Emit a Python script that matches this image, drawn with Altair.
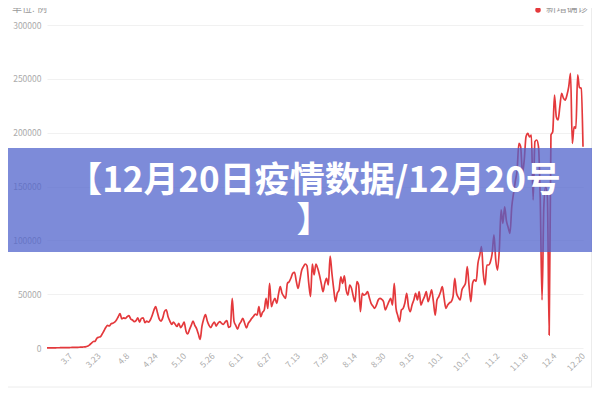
import altair as alt
import pandas as pd

# ---------------- data ----------------
start_date = "2022-02-22"
values = [
    100, 120, 150, 130, 180, 200, 220, 250, 300, 280,
    350, 400, 380, 450, 500, 550, 600, 650, 700, 800,
    900, 1000, 1300, 1800, 3000, 4500, 6000, 6200, 9000, 10000,
    10500, 13000, 16000, 19000, 21000, 20500, 22500, 23000, 24000, 26000,
    29000, 32000, 27000, 28000, 27500, 29000, 30000, 27000, 26000, 24500,
    25500, 28000, 24000, 27500, 28000, 23500, 25000, 24000, 26000, 30000,
    35000, 38500, 33000, 27000, 25000, 28000, 34000, 35500, 29000, 25000,
    22000, 24000, 22000, 20000, 23000, 19000, 21000, 24000, 16000, 13000,
    17000, 21000, 25000, 21000, 18000, 13000, 8000, 20000, 27000, 31000,
    25000, 21000, 19000, 22000, 24000, 20400, 23000, 24500, 23000, 22000,
    24000, 25400, 19200, 20000, 46100, 25000, 21000, 17500, 22000, 24500,
    27600, 23000, 18600, 22900, 25000, 27600, 29500, 31600, 30600, 38400,
    29100, 33000, 35300, 46100, 36800, 60100, 38400, 43000, 46100, 41500,
    50000, 57000, 50800, 48000, 46100, 60100, 61600, 65000, 69400, 70300,
    62000, 55400, 63200, 72000, 75500, 78000, 76200, 60000, 47700, 78000,
    67800, 78000, 74000, 67800, 60000, 52300, 60000, 64700, 58500, 85400,
    69400, 55000, 43000, 50800, 53900, 66200, 60100, 66900, 53900, 49200,
    58500, 55400, 48000, 43000, 61600, 58500, 33700, 50800, 49200, 50000,
    52300, 47000, 41500, 39000, 36800, 40000, 44600, 46100, 45200, 43000,
    35300, 39000, 43000, 46100, 39900, 60100, 36800, 30000, 24500, 35300,
    36800, 42000, 50800, 38400, 33700, 40000, 44600, 50800, 44600, 52300,
    39900, 44000, 47700, 52300, 43000, 48000, 53900, 43000, 30600, 44600,
    47700, 52000, 57000, 46100, 36800, 39900, 42000, 43000, 47700, 64700,
    50800, 47000, 44600, 53900, 57000, 60100, 75500, 58000, 43000, 60100,
    63200, 62000, 78700, 86000, 94100, 69400, 58500, 77100, 77100, 80000,
    88000, 105000, 81700, 72400, 91000, 128200, 115800, 131200, 118000, 112000,
    106500, 131200, 143700, 155000, 165300, 190100, 187000, 162300, 174600, 196300,
    199400, 196000, 197800, 137500, 191600, 193200, 187000, 137500, 44600, 131200,
    149800, 140500, 12100, 197800, 200900, 235000, 214800, 211800, 224100, 236600,
    232000, 230300, 235000, 242700, 255100, 190000, 205500, 204000, 253600, 242000,
    241200, 187000,
]
tick_labels = ["3.7", "3.23", "4.8", "4.24", "5.10", "5.26", "6.11", "6.27",
               "7.13", "7.29", "8.14", "8.30", "9.15", "10.1", "10.17", "11.2",
               "11.18", "12.4", "12.20"]
y_ticks = [0, 50000, 100000, 150000, 200000, 250000, 300000]
series_name = "新增确诊"
unit_text = "单位: 例"
title_line1 = "【12月20日疫情数据/12月20号"
title_line2 = "】"
year = 2022

# ---------------- tables ----------------
dates = pd.date_range(start_date, periods=len(values), freq="D", tz="UTC")
ms = (dates.asi8 // 10**6).tolist()
df = pd.DataFrame({"t": ms, "v": values})
tick_ms = []
for lab in tick_labels:
    m, d = lab.split(".")
    tick_ms.append(pd.Timestamp(year=year, month=int(m), day=int(d), tz="UTC").value // 10**6)
one = pd.DataFrame({"a": [0]})

RED = "#E4393C"
GREY = "#ababab"
FONT = "Noto Sans CJK SC"

line = alt.Chart(df).mark_line(color=RED, strokeWidth=1.7, interpolate="monotone").encode(
    x=alt.X("t:T",
            scale=alt.Scale(type="utc", domain=[ms[0], ms[-1]], nice=False),
            axis=alt.Axis(values=tick_ms,
                          labelExpr="utcFormat(datum.value, '%-m.%-d')",
                          labelAngle=315, labelAlign="right", labelBaseline="middle",
                          labelPadding=6, labelFontSize=8.5, labelColor=GREY,
                          labelFont=FONT, labelOverlap=False,
                          domain=False, ticks=False, grid=False, title=None)),
    y=alt.Y("v:Q",
            scale=alt.Scale(domain=[0, 300000], nice=False),
            axis=alt.Axis(values=y_ticks, format="d", labelFontSize=8.5, labelColor=GREY,
                          labelFont=FONT, labelPadding=6,
                          domain=False, ticks=False, gridColor="#f1f1f1",
                          title=None)),
)

bottom_border = alt.Chart(one).mark_rule(color="#ececec", strokeWidth=1).encode(
    x=alt.value(-39), x2=alt.value(545), y=alt.value(362))
right_border = alt.Chart(one).mark_rule(color="#ececec", strokeWidth=1).encode(
    x=alt.value(544.5), y=alt.value(-17), y2=alt.value(362))

unit = alt.Chart(one).mark_text(align="left", baseline="middle", fontSize=10,
                                color="#999999", font=FONT).encode(
    x=alt.value(-35), y=alt.value(-16), text=alt.value(unit_text))

legend_dot = alt.Chart(one).mark_point(filled=True, shape="circle", size=30,
                                        color=RED, opacity=1).encode(
    x=alt.value(491), y=alt.value(-15))
legend_text = alt.Chart(one).mark_text(align="left", baseline="middle", fontSize=10.5,
                                       color="#999999", font=FONT).encode(
    x=alt.value(499), y=alt.value(-16), text=alt.value(series_name))

banner = alt.Chart(one).mark_rect(color="#4F63CC", opacity=0.74).encode(
    x=alt.value(-39), x2=alt.value(545), y=alt.value(123), y2=alt.value(227))

t1 = alt.Chart(one).mark_text(align="center", baseline="middle", fontSize=35,
                              fontWeight="bold", color="white", font=FONT).encode(
    x=alt.value(267), y=alt.value(156), text=alt.value(title_line1))
t2 = alt.Chart(one).mark_text(align="center", baseline="middle", fontSize=35,
                              fontWeight="bold", color="white", font=FONT).encode(
    x=alt.value(267), y=alt.value(196), text=alt.value(title_line2))

chart = alt.layer(line, bottom_border, right_border, unit, legend_dot, legend_text,
                  banner, t1, t2).properties(
    width=536, height=323,
    autosize=alt.AutoSizeParams(type="none"),
    padding={"left": 39, "top": 17, "right": 9, "bottom": 44},
    background="white",
).configure_view(stroke=None)

chart.save("out.html", embed_options={"renderer": "svg", "actions": False})
